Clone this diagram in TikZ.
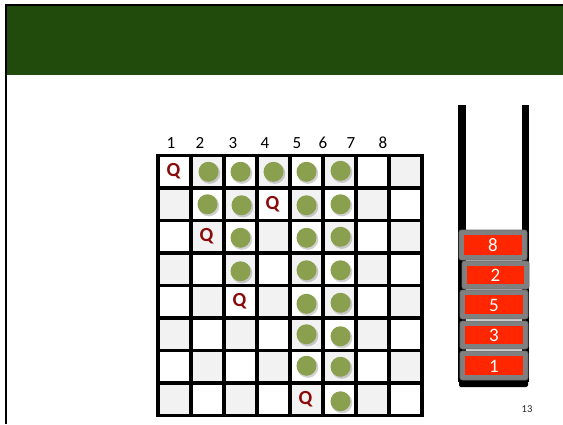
\documentclass[tikz,border=0pt]{standalone}
\usepackage{fontspec}
\setmainfont{Carlito}
\definecolor{band}{HTML}{214B0C}
\definecolor{dot}{HTML}{8AA04E}
\definecolor{qred}{HTML}{8B0A0A}
\definecolor{cellgray}{HTML}{F2F2F2}
\definecolor{boxred}{HTML}{FF2600}
\definecolor{boxgray}{HTML}{808080}
\definecolor{boxedge}{HTML}{6A6A6A}
\tikzset{
  cellbox/.style={minimum width=33pt,minimum height=32.5pt,inner sep=0pt,draw=none},
  queen/.style={text=qred,font=\fontsize{20}{21}\selectfont\bfseries,inner sep=0pt},
  dotnode/.style={circle,fill=dot,minimum size=20pt,inner sep=0pt},
  dotshadow/.style={circle,fill=black,opacity=0.18,minimum size=21pt,inner sep=0pt},
  collabel/.style={font=\fontsize{17}{19}\selectfont,inner sep=0pt},
  stackbox/.style={draw=boxedge,line width=0.8pt,fill=boxgray,rounded corners=2.5pt},
  stackred/.style={fill=boxred,draw=none},
  stacknum/.style={text=white,font=\fontsize{19}{21}\selectfont,inner sep=0pt},
}
\begin{document}
\begin{tikzpicture}[x=1pt,y=-1pt]
\path[use as bounding box,fill=white] (0,0) rectangle (563,424);
% slide frame and title band
\fill[band] (6,6) rectangle (563,75);
\draw[line width=2pt] (5.5,4.5) -- (563,4.5);
\draw[line width=2pt] (5.5,4) -- (5.5,424);
% board cells
\foreach \r in {1,...,8}{
  \foreach \c in {1,...,8}{
    \pgfmathtruncatemacro\parity{mod(\r+\c,2)}
    \ifnum\parity=1
      \node[cellbox,fill=cellgray] (c-\r-\c) at ({158+33*(\c-0.5)},{155.5+32.5*(\r-0.5)}) {};
    \else
      \node[cellbox,fill=white] (c-\r-\c) at ({158+33*(\c-0.5)},{155.5+32.5*(\r-0.5)}) {};
    \fi
  }
}
% grid lines
\foreach \i in {0,...,8}{
  \draw[line width=3.6pt] ({158+33*\i},153.7) -- ({158+33*\i},417.3);
  \draw[line width=3.6pt] (156.2,{155.5+32.5*\i}) -- (423.8,{155.5+32.5*\i});
}
% column labels
\foreach \n/\x in {1/171,2/200,3/233,4/265,5/297,6/323,7/351,8/383}{
  \node[collabel] (lab\n) at (\x,143) {\n};
}
% queens
\foreach \r/\c in {1/1,2/4,3/2,5/3,8/5}{
  \node[queen] (q\r) at ([xshift=-1pt,yshift=0.5pt]c-\r-\c.center) {Q};
}
% attacked squares
\foreach \r/\c/\dx/\dy in {1/2/1/0,1/3/0/0,1/4/0/0,1/5/0/0,1/6/1/1,
  2/2/0/0,2/3/1/-1,2/5/0/-1,2/6/1/0,
  3/3/0/-1,3/5/0/-1,3/6/1/0,
  4/3/0/-2,4/5/0/-1,4/6/1/-1,
  5/5/0/-2,5/6/1/-1,
  6/5/0/0,6/6/1/-2,
  7/5/0/1,7/6/1/0,
  8/6/1/-2}{
  \node[dotshadow] at ([xshift={\dx+1.3pt},yshift={\dy-1.6pt}]c-\r-\c.center) {};
  \node[dotnode] (d-\r-\c) at ([xshift={\dx*1pt},yshift={\dy*1pt}]c-\r-\c.center) {};
}
% stack walls
\fill[black] (458,105) rectangle (466,382);
\fill[black] (522,105) rectangle (529,382);
\fill[black,rounded corners=2pt] (459,374) rectangle (528,387);
% stack entries
\foreach \v/\xa/\ya/\xb/\yb in {1/460/351/528/380, 3/460/321/528/349, 5/460/290/528/319, 2/462/261/529/289, 8/459/230/527/260}{
  \draw[stackbox] (\xa,\ya) rectangle (\xb,\yb);
  \fill[stackred] ({\xa+5},{\ya+5}) rectangle ({\xb-5},{\yb-5});
  \node[stacknum] (s\v) at ({(\xa+\xb)/2},{(\ya+\yb)/2+0.5}) {\v};
}
% page number
\node[font=\fontsize{10.5}{12}\selectfont,text=black!85,inner sep=0pt] (page) at (527,409) {13};
\end{tikzpicture}
\end{document}
